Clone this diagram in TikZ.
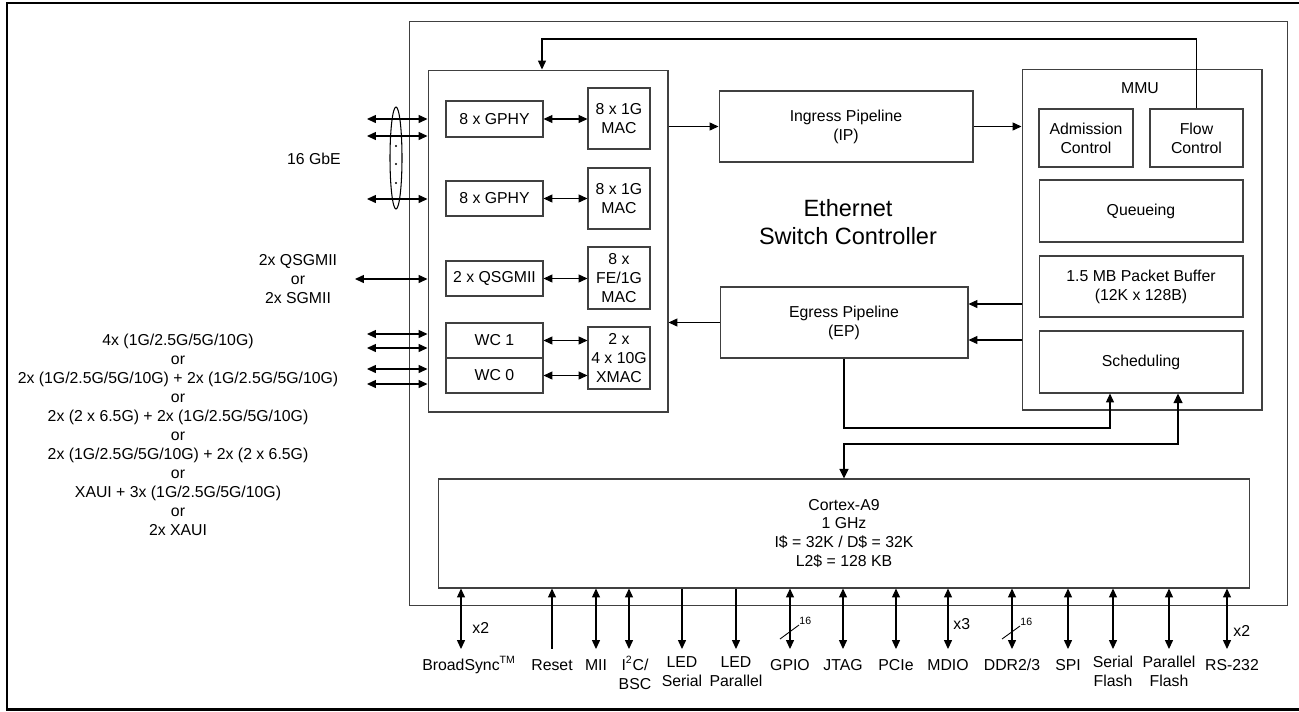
\documentclass[tikz,border=0pt]{standalone}
\usepackage{fontspec}
\setmainfont{Liberation Sans}
\usetikzlibrary{arrows.meta,positioning,calc}

\newcommand\pintop{\vphantom{I\textsuperscript{2}}}

\begin{document}
\begin{tikzpicture}[x=0.02cm, y=-0.02cm,
    box/.style={draw=black!75, line width=0.6pt, align=center, inner sep=0pt, font=\fontsize{9}{10.8}\selectfont},
    txt/.style={align=center, inner sep=0pt, font=\fontsize{9}{10.8}\selectfont},
    arr/.style={-{Triangle[length=5pt,width=4.5pt]}, line width=0.6pt},
    biarr/.style={{Triangle[length=5pt,width=4.5pt]}-{Triangle[length=5pt,width=4.5pt]}, line width=0.6pt},
    thickbi/.style={{Triangle[length=5.5pt,width=5pt]}-{Triangle[length=5.5pt,width=5pt]}, line width=1.2pt},
    pinbi/.style={biarr},
    pinin/.style={{Triangle[length=5pt,width=4.5pt]}-, line width=0.6pt},
    pinout/.style={arr},
    pinlbl/.style={txt, anchor=north, execute at begin node=\pintop},
    tiny16/.style={inner sep=0pt, anchor=south west, font=\fontsize{6}{7}\selectfont}
]
\useasboundingbox (0,0) rectangle (1299,711);
\clip (0,0) rectangle (1299,711);
\draw[line width=1.7pt] (7,3) rectangle (1320,709);

% chip and its blocks
\node[box, minimum width=17.58cm, minimum height=11.7cm] (chip) at (848.5,313.5) {};
\node[box, minimum width=4.8cm, minimum height=6.84cm] (ports) at (548,241) {};
\node[box, minimum width=1.94cm, minimum height=0.72cm] (gphy1) at (494.5,119) {8 x GPHY};
\node[box, minimum width=1.24cm, minimum height=1.22cm] (mac1) at (619,118.5) {8 x 1G\\MAC};
\node[box, minimum width=1.94cm, minimum height=0.7cm] (gphy2) at (494.5,198.5) {8 x GPHY};
\node[box, minimum width=1.24cm, minimum height=1.22cm] (mac2) at (619,198.5) {8 x 1G\\MAC};
\node[box, minimum width=1.94cm, minimum height=0.7cm] (qsg) at (494.5,278.5) {2 x QSGMII};
\node[box, minimum width=1.24cm, minimum height=1.24cm] (femac) at (619,278) {8 x\\FE/1G\\MAC};
\node[box, minimum width=1.94cm, minimum height=0.7cm] (wc1) at (494.5,340.5) {WC 1};
\node[box, minimum width=1.94cm, minimum height=0.7cm] (wc0) at (494.5,375.5) {WC 0};
\node[box, minimum width=1.24cm, minimum height=1.24cm] (xmac) at (619,358) {2 x\\4 x 10G\\XMAC};

\node[box, minimum width=5.08cm, minimum height=1.42cm] (ingress) at (846,126.5) {Ingress Pipeline\\(IP)};
\node[box, minimum width=4.96cm, minimum height=1.42cm] (egress) at (844,322.5) {Egress Pipeline\\(EP)};
\node[txt, font=\fontsize{13.4}{16.4}\selectfont] (esc) at (848,222) {Ethernet\\Switch Controller};

\node[box, minimum width=4.8cm, minimum height=6.82cm] (mmu) at (1142,239.5) {};
\node[txt] (mmulbl) at (1140,88) {MMU};
\node[box, minimum width=1.88cm, minimum height=1.16cm] (adm) at (1086,138) {Admission\\Control};
\node[box, minimum width=1.86cm, minimum height=1.16cm] (flow) at (1196.5,138) {Flow\\Control};
\node[box, minimum width=4.08cm, minimum height=1.24cm] (queue) at (1141,211) {Queueing};
\node[box, minimum width=4.08cm, minimum height=1.22cm] (buf) at (1141,286.5) {1.5 MB Packet Buffer\\(12K x 128B)};
\node[box, minimum width=4.08cm, minimum height=1.24cm] (sched) at (1141,362) {Scheduling};

\node[box, minimum width=16.24cm, minimum height=2.18cm] (cortex) at (844,533.5) {Cortex-A9\\1 GHz\\I\$ = 32K / D\$ = 32K\\L2\$ = 128 KB};

% inner links
\foreach \a/\b in {gphy1/mac1, gphy2/mac2, qsg/femac, wc1/xmac, wc0/xmac}
  \draw[biarr] (\a.east) -- (\a.east -| \b.west);
\draw[arr] (ports.east |- ingress.west) -- (ingress.west);
\draw[arr] (ingress.east) -- (ingress.east -| mmu.west);
\draw[arr] ([yshift=0.37cm]egress.east -| mmu.west) -- ([yshift=0.37cm]egress.east);
\draw[arr] ([yshift=-0.35cm]egress.east -| mmu.west) -- ([yshift=-0.35cm]egress.east);
\draw[arr] (egress.west) -- (egress.west -| ports.east);
\coordinate (fb) at (542,39);
\draw[arr] (flow.north) |- (fb) -- (fb |- ports.north);
\coordinate (s1) at (1110,428);
\draw[arr] (egress.south) |- (s1) -- (s1 |- sched.south);
\coordinate (s2) at (1178,444);
\draw[thickbi] (s2 |- sched.south) -- (s2) -| (cortex.north);

% serdes side
\node[txt] (gbe) at (314,159) {16 GbE};
\foreach \y [count=\i] in {119,136,199} {
  \coordinate (g\i) at (367,\y);
  \draw[biarr] (g\i) -- (g\i -| ports.west);
}
\draw[line width=0.6pt] (396,158) ellipse [x radius=0.12cm, y radius=1.02cm];
\foreach \y in {146,164,183} \fill (396,\y) circle (0.6pt);

\node[txt] (sgmii) at (298,279) {2x QSGMII\\or\\2x SGMII};
\coordinate (q1) at (355,279);
\draw[biarr] (q1) -- (q1 -| ports.west);

\node[txt] (xaui) at (178,435) {4x (1G/2.5G/5G/10G)\\or\\2x (1G/2.5G/5G/10G) + 2x (1G/2.5G/5G/10G)\\or\\2x (2 x 6.5G) + 2x (1G/2.5G/5G/10G)\\or\\2x (1G/2.5G/5G/10G) + 2x (2 x 6.5G)\\or\\XAUI + 3x (1G/2.5G/5G/10G)\\or\\2x XAUI};
\foreach \y [count=\i] in {334,348,369,384} {
  \coordinate (w\i) at (367,\y);
  \draw[biarr] (w\i) -- (w\i -| ports.west);
}

% pins below the cpu
\foreach \x/\lx/\txt/\kind [count=\i] in {
    461/461/{BroadSync\rlap{\textsuperscript{TM}}}/bi, 552/552/Reset/in, 596/596/MII/bi,
    629/635/{I\textsuperscript{2}C/\\BSC}/bi, 682/682/{LED\\Serial}/out, 736/736/{LED\\Parallel}/out,
    790/790/GPIO/bi, 843/843/JTAG/bi, 896/896/PCIe/bi, 948/948/MDIO/bi, 1012/1012/{DDR2/3}/bi,
    1068/1068/SPI/bi, 1113/1113/{Serial\\Flash}/bi, 1169/1169/{Parallel\\Flash}/bi, 1227/1232/RS-232/bi} {
  \coordinate (p\i) at (\x,649);
  \draw[pin\kind] (cortex.south -| p\i) -- (p\i);
  \node[pinlbl] (l\i) at (\lx,656) {\txt};
}
\node[txt, anchor=west] (n1) at (472,628) {x2};
\node[txt, anchor=west] (n2) at (953,624) {x3};
\node[txt, anchor=west] (n3) at (1233,631) {x2};
\draw[line width=0.5pt] (780,639) -- (799,625) node[tiny16] {16};
\draw[line width=0.5pt] (1002,639) -- (1020,626) node[tiny16] {16};
\end{tikzpicture}
\end{document}
